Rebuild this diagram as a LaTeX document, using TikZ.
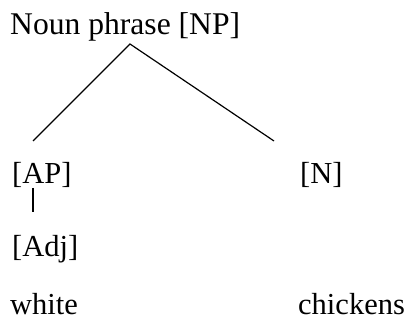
\documentclass[tikz,border=0pt]{standalone}
\usepackage{fontspec}
\setmainfont{Liberation Serif}
\begin{document}
\begin{tikzpicture}[x=1pt,y=-1pt,
  lbl/.style={anchor=base west,inner sep=0pt,font=\fontsize{30.5}{36}\selectfont},
  edge/.style={line width=1.2pt}]
\useasboundingbox (0,0) rectangle (413,331);
\node[lbl,font=\fontsize{31.6}{36}\selectfont] (np) at (10,35) {Noun phrase [NP]};
\node[lbl] (ap) at (12,184) {[AP]};
\node[lbl] (n) at (300,184) {[N]};
\node[lbl] (adj) at (12,257) {[Adj]};
\node[lbl] (white) at (10,315) {white};
\node[lbl] (chickens) at (298,315) {chickens};
\coordinate (apex) at (130,44);
\coordinate (apTop) at (33,141);
\coordinate (nTop) at (274,141);
\coordinate (apBot) at (33,188);
\coordinate (adjTop) at (33,212);
\draw[edge] (apTop) -- (apex) -- (nTop);
\draw[edge] (apBot) -- (adjTop);
\end{tikzpicture}
\end{document}
